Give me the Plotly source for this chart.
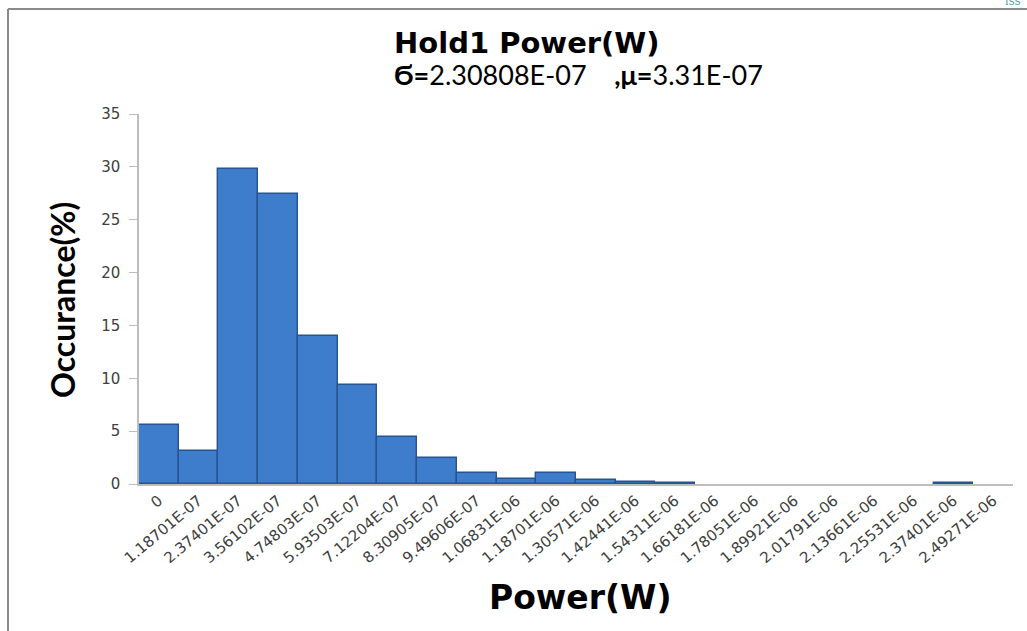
import plotly.graph_objects as go

# Histogram bins (lower edge of each power bin, in W) and their share of samples
bin_labels = [
    "0", "1.18701E-07", "2.37401E-07", "3.56102E-07", "4.74803E-07",
    "5.93503E-07", "7.12204E-07", "8.30905E-07", "9.49606E-07", "1.06831E-06",
    "1.18701E-06", "1.30571E-06", "1.42441E-06", "1.54311E-06", "1.66181E-06",
    "1.78051E-06", "1.89921E-06", "2.01791E-06", "2.13661E-06", "2.25531E-06",
    "2.37401E-06", "2.49271E-06",
]
occurrence_pct = [
    5.6, 3.15, 29.8, 27.4, 14.0,
    9.35, 4.4, 2.5, 1.0, 0.5,
    1.0, 0.4, 0.15, 0.12, 0.0,
    0.0, 0.0, 0.0, 0.0, 0.0,
    0.05, 0.0,
]
y_ticks = [0, 5, 10, 15, 20, 25, 30, 35]

title_line1 = "Hold1 Power(W)"
sigma_text = "2.30808E-07"
mu_text = "3.31E-07"
x_title = "Power(W)"
y_title = "Occurance(%)"

# Page geometry (pixels)
W, H = 1027, 631
ML, MR, MT, MB = 139, 14, 114, 147
PW, PH = W - ML - MR, H - MT - MB


def px_x(x):
    return (x - ML) / PW


def px_y(y):
    return (H - MB - y) / PH


# empty bins get no outline so they do not leave a stroke on the baseline
edge_widths = [1.4 if v > 0 else 0 for v in occurrence_pct]

fig = go.Figure()
fig.add_trace(go.Bar(
    x=bin_labels,
    y=occurrence_pct,
    marker=dict(color="#3d7dcb", line=dict(color="#27538f", width=edge_widths)),
    hoverinfo="x+y",
))

fig.update_layout(
    width=W,
    height=H,
    margin=dict(l=ML, r=MR, t=MT, b=MB),
    paper_bgcolor="white",
    plot_bgcolor="white",
    bargap=0,
    showlegend=False,
    font=dict(family="DejaVu Sans", color="#404040"),
    xaxis=dict(
        type="category",
        tickangle=-40,
        tickfont=dict(family="DejaVu Sans", size=15, color="#404040"),
        showline=True,
        linecolor="#bdbdbd",
        linewidth=2,
        ticks="",
        showgrid=False,
    ),
    yaxis=dict(
        range=[0, 35],
        tickvals=y_ticks,
        tickfont=dict(family="DejaVu Sans", size=15, color="#404040"),
        ticklabelstandoff=6,
        showline=True,
        linecolor="#bdbdbd",
        linewidth=1.5,
        ticks="outside",
        ticklen=8,
        tickcolor="#bdbdbd",
        showgrid=False,
        zeroline=False,
    ),
)

annotations = [
    dict(text=f"<b>{title_line1}</b>", x=px_x(527), y=px_y(43),
         font=dict(family="DejaVu Sans", size=29, color="black")),
    dict(text=f"<b>Ϭ=</b>{sigma_text}    <b>,μ=</b>{mu_text}", x=px_x(578), y=px_y(75),
         font=dict(family="Lato", size=27, color="black")),
    dict(text=f"<b>{x_title}</b>", x=px_x(580), y=px_y(597),
         font=dict(family="DejaVu Sans", size=33, color="black")),
    dict(text=f"<b>{y_title}</b>", x=px_x(62), y=px_y(300), textangle=-90,
         font=dict(family="Lato", size=32, color="black")),
]
for a in annotations:
    a.update(xref="paper", yref="paper", xanchor="center", yanchor="middle", showarrow=False)
# small corner mark from the page header
annotations.append(dict(text="ISS", xref="paper", yref="paper", x=px_x(1022), y=px_y(8),
                        xanchor="right", yanchor="bottom", showarrow=False, borderpad=0,
                        font=dict(family="DejaVu Serif", size=9, color="#1aa3a8")))
fig.update_layout(annotations=annotations)

# Outer chart frame: left and top edges
frame = dict(color="#8a8a8a", width=2)
fig.add_shape(type="line", xref="paper", yref="paper",
              x0=px_x(8), x1=px_x(8), y0=px_y(9), y1=px_y(H), line=frame)
fig.add_shape(type="line", xref="paper", yref="paper",
              x0=px_x(8), x1=px_x(W), y0=px_y(9), y1=px_y(9), line=frame)

fig.write_html("out.html")
